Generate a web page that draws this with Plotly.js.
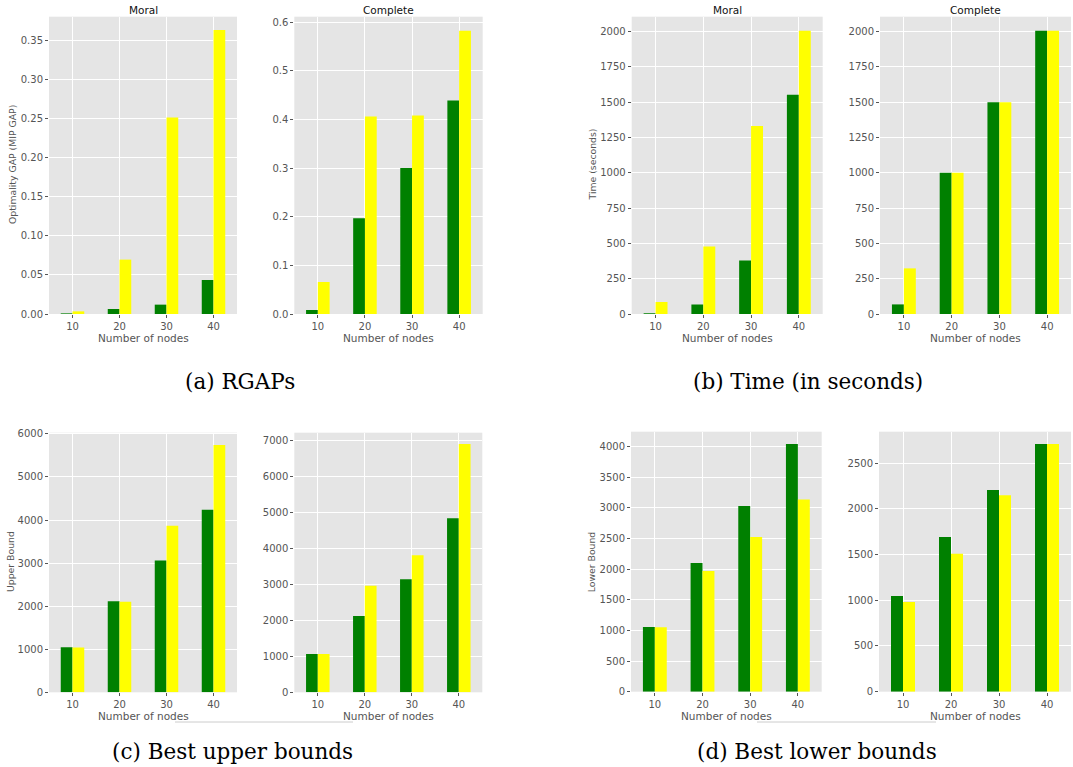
<!DOCTYPE html>
<html>
<head>
<meta charset="utf-8">
<script src="https://cdn.plot.ly/plotly-3.0.1.min.js"></script>
<style>
  html, body { margin: 0; padding: 0; background: #ffffff; }
  #chart { width: 1073px; height: 767px; }
</style>
</head>
<body>
<div id="chart"></div>
<script>
// ---------------- DATA ----------------
const nodes = ["10", "20", "30", "40"];

const gapMoralGreen     = [0.0008, 0.0064, 0.012, 0.0436];
const gapMoralYellow    = [0.0034, 0.0697, 0.2517, 0.364];
const gapCompleteGreen  = [0.008, 0.197, 0.300, 0.439];
const gapCompleteYellow = [0.066, 0.406, 0.408, 0.582];

const timeMoralGreen     = [5, 68, 379, 1553];
const timeMoralYellow    = [85, 478, 1331, 2005];
const timeCompleteGreen  = [68, 1000, 1500, 2005];
const timeCompleteYellow = [323, 1000, 1500, 2005];

const ubMoralGreen     = [1048, 2111, 3059, 4237];
const ubMoralYellow    = [1040, 2103, 3868, 5740];
const ubCompleteGreen  = [1062, 2115, 3139, 4829];
const ubCompleteYellow = [1062, 2955, 3804, 6888];

const lbMoralGreen     = [1055, 2100, 3030, 4042];
const lbMoralYellow    = [1050, 1970, 2524, 3139];
const lbCompleteGreen  = [1046, 1691, 2205, 2708];
const lbCompleteYellow = [980, 1509, 2147, 2708];

const panelTitles = ["Moral", "Complete"];
const xTitle = "Number of nodes";
const yTitles = ["Optimality GAP (MIP GAP)", "Time (seconds)", "Upper Bound", "Lower Bound"];
const captions = ["(a) RGAPs", "(b) Time (in seconds)", "(c) Best upper bounds", "(d) Best lower bounds"];

// ---------------- LAYOUT HELPERS ----------------
const W = 1073, H = 767;
const GREEN = "#008000", YELLOW = "#FFFF00";
const px = v => v / W;
const py = v => 1 - v / H;

// [left, right, top, bottom] in pixels, plus y-axis settings
const panels = [
  { box: [49, 237, 16.7, 314],   g: gapMoralGreen,     y: gapMoralYellow,     range: [0, 0.381], dtick: 0.05, fmt: ".2f" },
  { box: [294.3, 482.7, 16.7, 314], g: gapCompleteGreen, y: gapCompleteYellow, range: [0, 0.611], dtick: 0.1, fmt: ".1f" },
  { box: [631.7, 822.7, 16.7, 314], g: timeMoralGreen,  y: timeMoralYellow,    range: [0, 2105], dtick: 250, fmt: "d" },
  { box: [880, 1071, 16.7, 314], g: timeCompleteGreen, y: timeCompleteYellow,  range: [0, 2105], dtick: 250, fmt: "d" },
  { box: [49, 237, 432.7, 692.3], g: ubMoralGreen,      y: ubMoralYellow,      range: [0, 6027], dtick: 1000, fmt: "d" },
  { box: [294.3, 482.3, 432.7, 692.3], g: ubCompleteGreen, y: ubCompleteYellow, range: [0, 7203], dtick: 1000, fmt: "d" },
  { box: [631, 821.7, 431.7, 691.7], g: lbMoralGreen,   y: lbMoralYellow,      range: [0, 4244], dtick: 500, fmt: "d" },
  { box: [879, 1071, 431.7, 691.7], g: lbCompleteGreen, y: lbCompleteYellow,   range: [0, 2843], dtick: 500, fmt: "d" }
];

const traces = [];
const layout = {
  width: W, height: H,
  margin: { l: 0, r: 0, t: 0, b: 0 },
  paper_bgcolor: "#ffffff",
  plot_bgcolor: "#E5E5E5",
  barmode: "group",
  bargap: 0.5,
  bargroupgap: 0,
  showlegend: false,
  font: { family: "DejaVu Sans", size: 10, color: "#555555" },
  annotations: [],
  shapes: []
};

panels.forEach((p, i) => {
  const n = i + 1;
  const xa = n === 1 ? "x" : "x" + n;
  const ya = n === 1 ? "y" : "y" + n;
  traces.push({ type: "bar", x: nodes, y: p.g, xaxis: xa, yaxis: ya, marker: { color: GREEN }, hoverinfo: "x+y" });
  traces.push({ type: "bar", x: nodes, y: p.y, xaxis: xa, yaxis: ya, marker: { color: YELLOW }, hoverinfo: "x+y" });

  const [l, r, t, b] = p.box;
  layout[n === 1 ? "xaxis" : "xaxis" + n] = {
    domain: [px(l), px(r)], anchor: ya, type: "category",
    range: [-0.5, 3.5], showgrid: true, gridcolor: "#ffffff", gridwidth: 1,
    zeroline: false, showline: false,
    ticks: "outside", ticklen: 3, tickcolor: "#555555", tickwidth: 1,
    tickfont: { family: "DejaVu Sans", size: 10, color: "#555555" }
  };
  layout[n === 1 ? "yaxis" : "yaxis" + n] = {
    domain: [py(b), py(t)], anchor: xa,
    range: p.range, dtick: p.dtick, tick0: 0, tickformat: p.fmt,
    showgrid: true, gridcolor: "#ffffff", gridwidth: 1,
    zeroline: false, showline: false,
    ticks: "outside", ticklen: 3, tickcolor: "#555555", tickwidth: 1,
    tickfont: { family: "DejaVu Sans", size: 10, color: "#555555" }
  };

  // panel titles only on top row
  if (i < 4) {
    layout.annotations.push({
      xref: "paper", yref: "paper", x: px((l + r) / 2), y: py(9.5),
      text: panelTitles[i % 2], showarrow: false, xanchor: "center", yanchor: "middle",
      font: { family: "DejaVu Sans", size: 10.5, color: "#111111" }
    });
  }
  // x-axis titles
  const xty = i < 4 ? 338 : 716;
  layout.annotations.push({
    xref: "paper", yref: "paper", x: px((l + r) / 2), y: py(xty),
    text: xTitle, showarrow: false, xanchor: "center", yanchor: "middle",
    font: { family: "DejaVu Sans", size: 10.5, color: "#555555" }
  });
});

// y-axis titles
const yTitlePos = [[13, 165], [592.5, 165], [10, 562], [591.3, 562]];
yTitles.forEach((t, k) => {
  layout.annotations.push({
    xref: "paper", yref: "paper", x: px(yTitlePos[k][0]), y: py(yTitlePos[k][1]),
    text: t, showarrow: false, textangle: -90, xanchor: "center", yanchor: "middle",
    font: { family: "DejaVu Sans", size: 9.3, color: "#555555" }
  });
});

// captions
const capPos = [[239.5, 381], [808, 381], [232, 751], [817, 751]];
captions.forEach((t, k) => {
  layout.annotations.push({
    xref: "paper", yref: "paper", x: px(capPos[k][0]), y: py(capPos[k][1]),
    text: t, showarrow: false, xanchor: "center", yanchor: "middle",
    font: { family: "DejaVu Serif", size: 21.5, color: "#000000" }
  });
});

// faint separator lines under bottom panels
[[175, 353], [757, 936]].forEach(([a, b]) => {
  layout.shapes.push({
    type: "line", xref: "paper", yref: "paper",
    x0: px(a), x1: px(b), y0: py(722), y1: py(722),
    line: { color: "#cccccc", width: 1 }
  });
});

Plotly.newPlot("chart", traces, layout, { displayModeBar: false, staticPlot: true });
</script>
</body>
</html>
